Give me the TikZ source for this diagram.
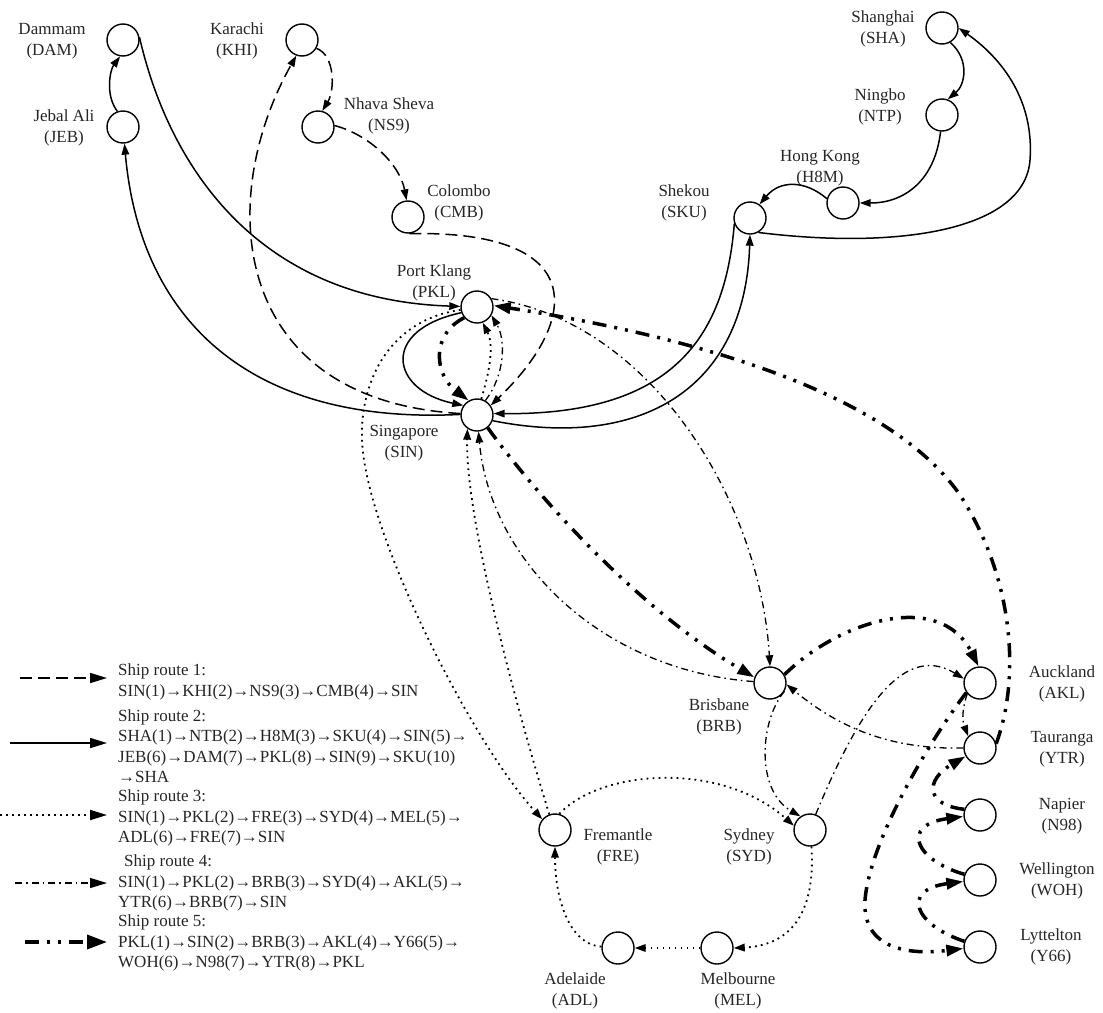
\documentclass[tikz,border=0pt]{standalone}
\usepackage{fontspec}
\setmainfont{Liberation Serif}
\usetikzlibrary{arrows.meta}
\begin{document}
\begin{tikzpicture}[x=1pt,y=1pt,
  port/.style={circle,draw,line width=1.4pt,minimum size=32pt,inner sep=0pt},
  lbl/.style={align=center,font=\fontsize{17}{21}\selectfont,text=black!85,inner sep=0pt},
  leg/.style={align=left,font=\fontsize{17}{20.5}\selectfont,text=black!85,inner sep=0pt,anchor=west},
  tip/.style={-{Triangle[length=11pt,width=7.5pt]}},
  bigtip/.style={-{Triangle[length=17pt,width=11pt]}},
  legtip/.style={-{Triangle[length=17pt,width=10pt]}},
  legbigtip/.style={-{Triangle[length=20pt,width=14pt]}},
  rA/.style={line width=1.5pt,dash pattern=on 12pt off 6pt,tip},
  rB/.style={line width=1.5pt,tip},
  rC/.style={line width=1.8pt,dash pattern=on 1.8pt off 4.2pt,tip},
  rD/.style={line width=1.3pt,dash pattern=on 7pt off 4pt on 1.6pt off 4pt,tip},
  rE/.style={line width=3.5pt,dash pattern=on 14pt off 8pt on 3pt off 8pt on 3pt off 8pt,bigtip},
]
\fill[white] (0,0) rectangle (1103,-1012);
\useasboundingbox (0,0) rectangle (1103,-1012);

% ports
\node[port] (DAM) at (123,-40) {};
\node[port] (JEB) at (123,-127) {};
\node[port] (KHI) at (302,-40) {};
\node[port] (NS9) at (318,-127) {};
\node[port] (CMB) at (408,-217) {};
\node[port] (SHA) at (942,-28) {};
\node[port] (NTP) at (942,-115) {};
\node[port] (H8M) at (843,-203) {};
\node[port] (SKU) at (750,-218) {};
\node[port] (PKL) at (477,-307) {};
\node[port] (SIN) at (477,-415) {};
\node[port] (BRB) at (770,-683) {};
\node[port] (AKL) at (980,-683) {};
\node[port] (YTR) at (980,-748) {};
\node[port] (N98) at (980,-815) {};
\node[port] (WOH) at (980,-880) {};
\node[port] (Y66) at (980,-947) {};
\node[port] (FRE) at (555,-830) {};
\node[port] (SYD) at (810,-830) {};
\node[port] (ADL) at (618,-948) {};
\node[port] (MEL) at (717,-948) {};

% labels
\node[lbl] (DAMt) at (52,-41) {Dammam\\(DAM)};
\node[lbl] (JEBt) at (64,-128) {Jebal Ali\\(JEB)};
\node[lbl] (KHIt) at (237,-41) {Karachi\\(KHI)};
\node[lbl] (NS9t) at (389,-116) {Nhava Sheva\\(NS9)};
\node[lbl] (CMBt) at (459,-203) {Colombo\\(CMB)};
\node[lbl] (SHAt) at (883,-29) {Shanghai\\(SHA)};
\node[lbl] (NTPt) at (880,-107) {Ningbo\\(NTP)};
\node[lbl] (H8Mt) at (820,-168) {Hong Kong\\(H8M)};
\node[lbl] (SKUt) at (684,-203) {Shekou\\(SKU)};
\node[lbl] (PKLt) at (434,-283) {Port Klang\\(PKL)};
\node[lbl] (SINt) at (404,-443) {Singapore\\(SIN)};
\node[lbl] (BRBt) at (719,-717) {Brisbane\\(BRB)};
\node[lbl] (AKLt) at (1062,-684) {Auckland\\(AKL)};
\node[lbl] (YTRt) at (1062,-749) {Tauranga\\(YTR)};
\node[lbl] (N98t) at (1062,-816) {Napier\\(N98)};
\node[lbl] (WOHt) at (1057,-881) {Wellington\\(WOH)};
\node[lbl] (Y66t) at (1051,-947) {Lyttelton\\(Y66)};
\node[lbl] (FREt) at (618,-847) {Fremantle\\(FRE)};
\node[lbl] (SYDt) at (749,-847) {Sydney\\(SYD)};
\node[lbl] (ADLt) at (575,-991) {Adelaide\\(ADL)};
\node[lbl] (MELt) at (738,-991) {Melbourne\\(MEL)};

% route 1
\draw[rA] (SIN.175) .. controls (230,-400) and (215,-200) .. (KHI.250);
\draw[rA] (KHI.330) .. controls (335,-55) and (335,-90) .. (NS9.75);
\draw[rA] (NS9.5) .. controls (370,-135) and (400,-165) .. (CMB.95);
\draw[rA] (CMB.275) .. controls (590,-230) and (580,-320) .. (SIN.35);

% route 2
\draw[rB] (SHA.300) .. controls (970,-60) and (965,-85) .. (NTP.70);
\draw[rB] (NTP.265) .. controls (935,-180) and (905,-203) .. (H8M.0);
\draw[rB] (H8M.165) .. controls (805,-180) and (780,-180) .. (SKU.55);
\draw[rB] (SKU.200) .. controls (725,-340) and (670,-415) .. (SIN.5);
\draw[rB] (SIN.178) .. controls (250,-425) and (140,-320) .. (JEB.275);
\draw[rB] (JEB.110) .. controls (105,-95) and (110,-70) .. (DAM.260);
\draw[rB] (DAM.10) .. controls (170,-170) and (260,-300) .. (PKL.178);
\draw[rB] (PKL.200) .. controls (380,-330) and (390,-390) .. (SIN.145);
\draw[rB] (SIN.340) .. controls (640,-450) and (745,-390) .. (SKU.270);
\draw[rB] (SKU.300) .. controls (900,-250) and (1025,-230) .. (1030,-160) .. controls (1035,-90) and (990,-50) .. (SHA.0);

% route 3
\draw[rC] (SIN.75) .. controls (490,-370) and (494,-345) .. (PKL.290);
\draw[rC] (PKL.190) .. controls (390,-320) and (360,-380) .. (362,-440) .. controls (365,-530) and (470,-740) .. (FRE.140);
\draw[rC] (FRE.75) .. controls (600,-770) and (720,-760) .. (SYD.165);
\draw[rC] (SYD.275) .. controls (815,-900) and (800,-945) .. (MEL.0);
\draw[rC] (MEL) -- (ADL);
\draw[rC] (ADL.175) .. controls (570,-945) and (555,-900) .. (FRE.270);
\draw[rC] (FRE.110) .. controls (520,-720) and (465,-520) .. (SIN.235);

% route 4
\draw[rD] (SIN.60) .. controls (505,-375) and (506,-340) .. (PKL.330);
\draw[rD] (PKL.30) .. controls (650,-320) and (760,-500) .. (BRB.90);
\draw[rD] (BRB.330) .. controls (760,-720) and (755,-790) .. (SYD.125);
\draw[rD] (SYD.70) .. controls (855,-720) and (900,-640) .. (AKL.165);
\draw[rD] (AKL.220) .. controls (962,-710) and (962,-720) .. (YTR.135);
\draw[rD] (YTR.180) .. controls (880,-750) and (830,-720) .. (BRB.355);
\draw[rD] (BRB.175) .. controls (600,-670) and (490,-560) .. (SIN.275);

% route 5
\draw[rE] (PKL.220) .. controls (430,-335) and (435,-375) .. (SIN.120);
\draw[rE] (SIN.310) .. controls (540,-500) and (640,-610) .. (BRB.160);
\draw[rE] (BRB.30) .. controls (840,-620) and (940,-590) .. (AKL.95);
\draw[rE] (AKL.215) .. controls (930,-740) and (870,-840) .. (865,-900) .. controls (862,-950) and (910,-955) .. (Y66.185);
\draw[rE] (Y66.160) .. controls (915,-925) and (900,-890) .. (WOH.185);
\draw[rE] (WOH.160) .. controls (915,-860) and (900,-825) .. (N98.185);
\draw[rE] (N98.160) .. controls (925,-805) and (925,-780) .. (YTR.210);
\draw[rE] (YTR.15) .. controls (1020,-680) and (1015,-580) .. (960,-495) .. controls (880,-380) and (650,-330) .. (PKL.5);

% legend
\coordinate (a1) at (20,-678);  \coordinate (b1) at (107,-678);
\coordinate (a2) at (10,-743);  \coordinate (b2) at (107,-743);
\coordinate (a3) at (0,-815);   \coordinate (b3) at (107,-815);
\coordinate (a4) at (15,-883);  \coordinate (b4) at (107,-883);
\coordinate (a5) at (25,-942);  \coordinate (b5) at (107,-942);
\draw[rA,legtip] (a1) -- (b1);
\draw[rB,legtip] (a2) -- (b2);
\draw[rC,legtip] (a3) -- (b3);
\draw[rD,legtip] (a4) -- (b4);
\draw[rE,legbigtip] (a5) -- (b5);
\node[leg] (t1) at (118,-682) {Ship route 1:\\SIN(1)→KHI(2)→NS9(3)→CMB(4)→SIN};
\node[leg] (t2) at (118,-746) {Ship route 2:\\SHA(1)→NTB(2)→H8M(3)→SKU(4)→SIN(5)→\\JEB(6)→DAM(7)→PKL(8)→SIN(9)→SKU(10)\\→SHA};
\node[leg] (t3) at (118,-818) {Ship route 3:\\SIN(1)→PKL(2)→FRE(3)→SYD(4)→MEL(5)→\\ADL(6)→FRE(7)→SIN};
\node[leg] (t4) at (118,-883) {\hspace*{6pt}Ship route 4:\\SIN(1)→PKL(2)→BRB(3)→SYD(4)→AKL(5)→\\YTR(6)→BRB(7)→SIN};
\node[leg] (t5) at (118,-943) {Ship route 5:\\PKL(1)→SIN(2)→BRB(3)→AKL(4)→Y66(5)→\\WOH(6)→N98(7)→YTR(8)→PKL};
\end{tikzpicture}
\end{document}
